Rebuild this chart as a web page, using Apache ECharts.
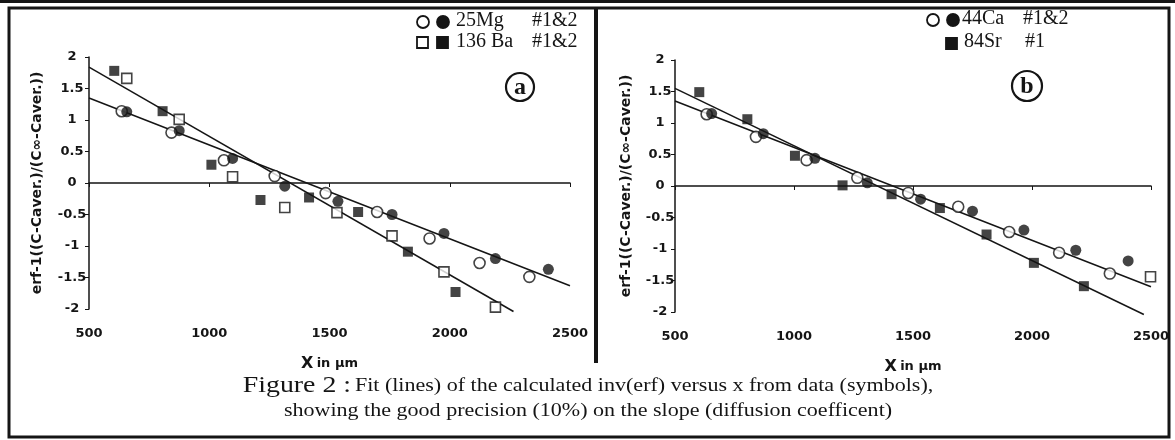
<!DOCTYPE html>
<html lang="en">
<head>
    <meta charset="UTF-8">
    <title>Figure 2</title>
    <script src="https://cdn.jsdelivr.net/npm/echarts@6/dist/echarts.min.js"></script>
    <style>
        body{
            margin: 0;
            background: #fff;
        }
        #chart{
            width: 1175px;
            height: 440px;
        }
    </style>
</head>
<body>
<div id="chart"></div>
<script>
    // panel a : 25Mg and 136Ba
    var xMgOpen = [636, 843, 1061, 1272, 1484, 1698, 1916, 2124, 2331];
    var yMgOpen = [1.14, 0.80, 0.36, 0.11, -0.16, -0.46, -0.88, -1.27, -1.49];
    var xMgFilled = [657, 875, 1097, 1314, 1535, 1760, 1976, 2190, 2410];
    var yMgFilled = [1.13, 0.83, 0.39, -0.05, -0.29, -0.50, -0.80, -1.20, -1.37];
    var xBaOpen = [657, 875, 1097, 1314, 1531, 1760, 1976, 2190];
    var yBaOpen = [1.66, 1.01, 0.10, -0.39, -0.47, -0.84, -1.41, -1.97];
    var xBaFilled = [605, 806, 1009, 1213, 1415, 1619, 1826, 2024];
    var yBaFilled = [1.78, 1.14, 0.29, -0.27, -0.23, -0.46, -1.09, -1.73];
    var fitMgX = [500, 2500], fitMgY = [1.35, -1.63];
    var fitBaX = [500, 2265], fitBaY = [1.84, -2.04];

    // panel b : 44Ca and 84Sr
    var xCaOpen = [633, 840, 1053, 1266, 1480, 1690, 1904, 2114, 2327];
    var yCaOpen = [1.14, 0.78, 0.41, 0.13, -0.11, -0.33, -0.73, -1.06, -1.39];
    var xCaFilled = [654, 871, 1088, 1308, 1532, 1750, 1966, 2184, 2404];
    var yCaFilled = [1.15, 0.83, 0.44, 0.05, -0.21, -0.40, -0.70, -1.02, -1.19];
    var xSrFilled = [602, 804, 1004, 1204, 1410, 1613, 1809, 2008, 2218];
    var ySrFilled = [1.49, 1.06, 0.48, 0.01, -0.13, -0.35, -0.77, -1.22, -1.59];
    var xSrOpen = [2498], ySrOpen = [-1.44];
    var fitCaX = [500, 2500], fitCaY = [1.35, -1.60];
    var fitSrX = [500, 2470], fitSrY = [1.55, -2.04];

    var ink = '#151515';
    var yName = 'erf-1((C-Caver.)/(C\u221E-Caver.))';

    function pts(xs, ys){
        var out = [];
        for(var i=0; i<xs.length; i++){
            out.push([xs[i], ys[i]]);
        }
        return out;
    }

    function scatter(idx, xs, ys, symbol, filled){
        return {
            type: 'scatter',
            xAxisIndex: idx,
            yAxisIndex: idx,
            symbol: symbol,
            symbolSize: symbol == 'rect' ? 10 : 11,
            data: pts(xs, ys),
            z: 5,
            itemStyle: {
                color: filled ? ink : '#fff',
                borderColor: ink,
                borderWidth: filled ? 0 : 1.6
            }
        };
    }

    function fit(idx, xs, ys){
        return {
            type: 'line',
            xAxisIndex: idx,
            yAxisIndex: idx,
            data: pts(xs, ys),
            symbol: 'none',
            clip: false,
            z: 2,
            lineStyle: {color: ink, width: 1.5}
        };
    }

    function xAx(idx){
        return {
            gridIndex: idx,
            type: 'value',
            min: 500,
            max: 2500,
            interval: 500,
            splitLine: {show: false},
            axisLine: {lineStyle: {color: ink, width: 1.5}},
            axisTick: {length: 4, lineStyle: {color: ink}},
            axisLabel: {color: ink, fontFamily: 'DejaVu Sans', fontWeight: 'bold', fontSize: 13, margin: 18,
                formatter: function(v){ return String(v); }},
            name: '{x|X} {s|in \u00B5m}',
            nameLocation: 'middle',
            nameGap: 47,
            nameTextStyle: {
                rich: {
                    x: {color: ink, fontFamily: 'DejaVu Sans', fontWeight: 'bold', fontSize: 16},
                    s: {color: ink, fontFamily: 'DejaVu Sans', fontWeight: 'bold', fontSize: 13}
                }
            }
        };
    }

    function yAx(idx, gap, margin){
        return {
            gridIndex: idx,
            type: 'value',
            min: -2,
            max: 2,
            interval: 0.5,
            splitLine: {show: false},
            axisLine: {show: true, lineStyle: {color: ink, width: 1.5}},
            axisTick: {show: true, length: 4, lineStyle: {color: ink}},
            axisLabel: {color: ink, fontFamily: 'DejaVu Sans', fontWeight: 'bold', fontSize: 13, align: 'center', margin: margin},
            name: yName,
            nameLocation: 'middle',
            nameGap: gap,
            nameTextStyle: {color: ink, fontFamily: 'DejaVu Sans', fontWeight: 'bold', fontSize: 14}
        };
    }

    var serif = 'Liberation Serif';
    function txt(x, y, s, size){
        return {type: 'text', left: x, top: y,
            style: {text: s, fill: ink, font: (size || 20) + 'px "' + serif + '"'}};
    }
    function ring(cx, cy, r, letter){
        return {type: 'group', children: [
            {type: 'circle', shape: {cx: cx, cy: cy, r: r},
                style: {fill: '#fff', stroke: ink, lineWidth: 2.2}},
            {type: 'text', x: cx, y: cy + 1,
                style: {text: letter, fill: ink, font: 'bold 24px "' + serif + '"',
                    align: 'center', verticalAlign: 'middle'}}
        ]};
    }
    function dot(cx, cy, r, filled){
        return {type: 'circle', shape: {cx: cx, cy: cy, r: r},
            style: {fill: filled ? ink : '#fff', stroke: ink, lineWidth: 1.8}};
    }
    function box(x, y, s, filled){
        return {type: 'rect', shape: {x: x, y: y, width: s, height: s},
            style: {fill: filled ? ink : '#fff', stroke: ink, lineWidth: 1.8}};
    }

    var myChart = echarts.init(document.getElementById('chart'));
    myChart.setOption({
        animation: false,
        backgroundColor: '#fff',
        grid: [
            {left: 89, top: 57, width: 481, height: 252},
            {left: 675, top: 60, width: 476, height: 252}
        ],
        xAxis: [xAx(0), xAx(1)],
        yAxis: [yAx(0, 45, 17), yAx(1, 42, 15)],
        series: [
            fit(0, fitMgX, fitMgY),
            fit(0, fitBaX, fitBaY),
            scatter(0, xMgOpen, yMgOpen, 'circle', false),
            scatter(0, xMgFilled, yMgFilled, 'circle', true),
            scatter(0, xBaOpen, yBaOpen, 'rect', false),
            scatter(0, xBaFilled, yBaFilled, 'rect', true),
            fit(1, fitCaX, fitCaY),
            fit(1, fitSrX, fitSrY),
            scatter(1, xCaOpen, yCaOpen, 'circle', false),
            scatter(1, xCaFilled, yCaFilled, 'circle', true),
            scatter(1, xSrFilled, ySrFilled, 'rect', true),
            scatter(1, xSrOpen, ySrOpen, 'rect', false)
        ],
        graphic: [
            // frame
            {type: 'rect', shape: {x: 0, y: 0, width: 1175, height: 3}, style: {fill: ink}},
            {type: 'rect', shape: {x: 9, y: 8, width: 1160, height: 429},
                style: {fill: 'none', stroke: ink, lineWidth: 3}},
            {type: 'line', shape: {x1: 596, y1: 8, x2: 596, y2: 363},
                style: {stroke: ink, lineWidth: 4}},
            // legend a
            dot(423, 22, 6, false), dot(443, 22, 6, true),
            txt(456, 11, '25Mg'), txt(532, 11, '#1&2'),
            box(417, 37, 11, false), box(437, 37, 11, true),
            txt(456, 32, '136 Ba'), txt(532, 32, '#1&2'),
            ring(520, 87, 14, 'a'),
            // legend b
            dot(933, 20, 6, false), dot(953, 20, 6, true),
            txt(962, 9, '44Ca'), txt(1023, 9, '#1&2'),
            box(946, 38, 11, true),
            txt(964, 32, '84Sr'), txt(1025, 32, '#1'),
            ring(1027, 86, 15, 'b'),
            // caption
            {type: 'text', x: 588, y: 386, scaleX: 1.16,
                style: {rich: {
                    big: {fontFamily: serif, fontSize: 24, fill: ink},
                    sm: {fontFamily: serif, fontSize: 19, fill: ink}
                }, text: '{big|Figure 2 :} {sm|Fit (lines) of the calculated inv(erf) versus x from data (symbols),}',
                    align: 'center', verticalAlign: 'middle'}},
            {type: 'text', x: 588, y: 411, scaleX: 1.16,
                style: {text: 'showing the good precision (10%) on the slope (diffusion coefficent)',
                    fill: ink, font: '19px "' + serif + '"', align: 'center', verticalAlign: 'middle'}}
        ]
    });
</script>
</body>
</html>
